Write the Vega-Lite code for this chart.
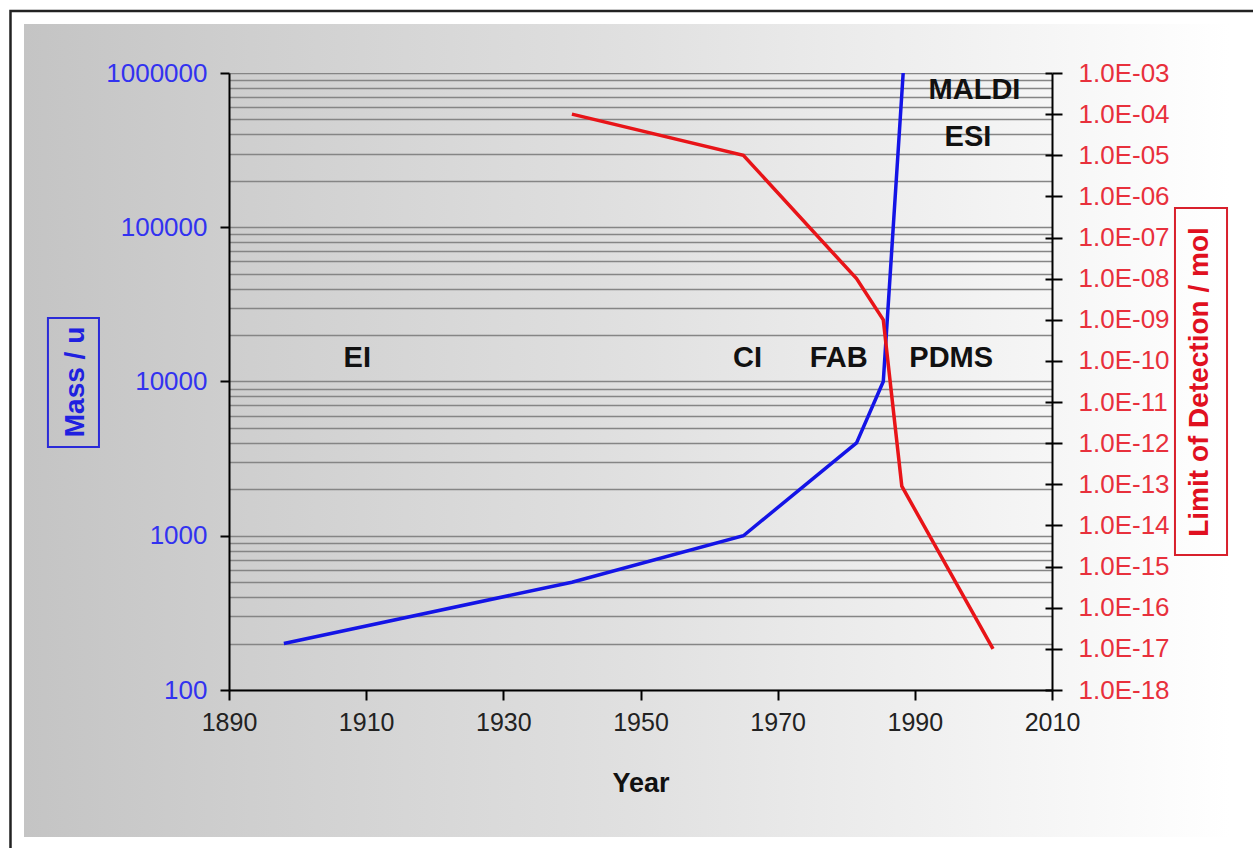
{
  "$schema": "https://vega.github.io/schema/vega-lite/v6.json",
  "width": 823,
  "height": 617,
  "autosize": {"type": "none"},
  "padding": {"left": 229, "top": 73, "right": 201, "bottom": 158},
  "background": "white",
  "config": {
    "view": {"stroke": null, "fill": {"gradient": "linear", "x1": 0, "x2": 1, "y1": 0, "y2": 0, "stops": [{"offset": 0, "color": "#cecece"}, {"offset": 0.4836, "color": "#e0e0e0"}, {"offset": 1, "color": "#f6f6f6"}]}},
    "font": "Liberation Sans",
    "axis": {"labelFont": "Liberation Sans", "titleFont": "Liberation Sans", "domainColor": "#000000", "domainWidth": 2, "tickColor": "#000000", "tickWidth": 2, "labelOverlap": false, "labelFlush": false}
  },
  "datasets": {
    "mass": [
      {"year": 1898, "mass": 200},
      {"year": 1940, "mass": 500},
      {"year": 1965, "mass": 1000},
      {"year": 1981.5, "mass": 4000},
      {"year": 1985.4, "mass": 10000},
      {"year": 1988.3, "mass": 1000000}
    ],
    "lod": [
      {"year": 1940, "lod": 1e-4},
      {"year": 1965, "lod": 1e-5},
      {"year": 1981.5, "lod": 1e-8},
      {"year": 1985.4, "lod": 1e-9},
      {"year": 1988.1, "lod": 9e-14},
      {"year": 2001.4, "lod": 1e-17}
    ],
    "labels": [
      {"label": "EI", "year": 1908.7, "mass": 14100},
      {"label": "CI", "year": 1965.6, "mass": 14100},
      {"label": "FAB", "year": 1978.9, "mass": 14100},
      {"label": "PDMS", "year": 1995.3, "mass": 14100},
      {"label": "MALDI", "year": 1998.7, "mass": 776000},
      {"label": "ESI", "year": 1997.75, "mass": 387000}
    ],
    "area": [{"region": "chart area"}]
  },
  "layer": [
    {
      "layer": [
        {
          "data": {"name": "area"},
          "mark": {"type": "rect", "clip": false, "fill": {"gradient": "linear", "x1": 0, "x2": 1, "y1": 0, "y2": 0, "stops": [{"offset": 0, "color": "#c4c4c4"}, {"offset": 1, "color": "#cecece"}]}},
          "encoding": {
            "x": {"datum": 1860.11, "type": "quantitative", "scale": {"domain": [1890, 2010], "nice": false, "zero": false},
              "axis": {"orient": "bottom", "zindex": 1, "values": [1890, 1910, 1930, 1950, 1970, 1990, 2010], "format": "d", "grid": false, "tickSize": 10, "labelPadding": 10, "labelFontSize": 25, "labelColor": "#222222", "title": "Year", "titleFontSize": 27, "titleFontWeight": "bold", "titleColor": "#111111", "titleX": 411.5, "titleY": 93, "titleBaseline": "middle", "titleAlign": "center"}},
            "x2": {"datum": 1890},
            "y": {"datum": 2079000, "type": "quantitative", "scale": {"type": "log", "domain": [100, 1000000], "nice": false},
              "axis": {"orient": "left", "zindex": 1, "grid": false,
                "values": [100, 1000, 10000, 100000, 1000000],
                "format": "d",
                "tickSize": 9, "labelPadding": 13, "labelFontSize": 26, "labelColor": "#3232f0",
                "title": "Mass / u", "titleColor": "#2020e0", "titleFontSize": 28, "titleFontWeight": "bold", "titleAngle": -90, "titleX": -154, "titleY": 308.5, "titleBaseline": "middle", "titleAlign": "center"}},
            "y2": {"datum": 11.15}
          }
        },
        {
          "data": {"name": "area"},
          "mark": {"type": "rect", "clip": false, "fill": {"gradient": "linear", "x1": 0, "x2": 1, "y1": 0, "y2": 0, "stops": [{"offset": 0, "color": "#f6f6f6"}, {"offset": 1, "color": "#ffffff"}]}},
          "encoding": {
            "x": {"datum": 2010, "type": "quantitative", "scale": {"domain": [1890, 2010], "nice": false, "zero": false}},
            "x2": {"datum": 2035.95},
            "y": {"datum": 2079000, "type": "quantitative", "scale": {"type": "log", "domain": [100, 1000000], "nice": false}},
            "y2": {"datum": 11.15}
          }
        },
        {
          "data": {"name": "area"},
          "mark": {"type": "rect", "clip": false, "fill": {"gradient": "linear", "x1": 0, "x2": 1, "y1": 0, "y2": 0, "stops": [{"offset": 0, "color": "#cecece"}, {"offset": 0.4836, "color": "#e0e0e0"}, {"offset": 1, "color": "#f6f6f6"}]}},
          "encoding": {
            "x": {"datum": 1890, "type": "quantitative", "scale": {"domain": [1890, 2010], "nice": false, "zero": false}},
            "x2": {"datum": 2010},
            "y": {"datum": 2079000, "type": "quantitative", "scale": {"type": "log", "domain": [100, 1000000], "nice": false}},
            "y2": {"datum": 1000000}
          }
        },
        {
          "data": {"name": "area"},
          "mark": {"type": "rect", "clip": false, "fill": {"gradient": "linear", "x1": 0, "x2": 1, "y1": 0, "y2": 0, "stops": [{"offset": 0, "color": "#cecece"}, {"offset": 0.4836, "color": "#e0e0e0"}, {"offset": 1, "color": "#f6f6f6"}]}},
          "encoding": {
            "x": {"datum": 1890, "type": "quantitative", "scale": {"domain": [1890, 2010], "nice": false, "zero": false}},
            "x2": {"datum": 2010},
            "y": {"datum": 100, "type": "quantitative", "scale": {"type": "log", "domain": [100, 1000000], "nice": false}},
            "y2": {"datum": 11.15}
          }
        },
        {
          "data": {"name": "area"},
          "mark": {"type": "rect", "clip": false, "filled": false, "stroke": "#222222", "strokeWidth": 2.5},
          "encoding": {
            "x": {"datum": 1858.14, "type": "quantitative", "scale": {"domain": [1890, 2010], "nice": false, "zero": false}},
            "x2": {"datum": 2040.3},
            "y": {"datum": 2520000, "type": "quantitative", "scale": {"type": "log", "domain": [100, 1000000], "nice": false}},
            "y2": {"datum": 8.51}
          }
        },
        {
          "data": {"name": "area"},
          "mark": {"type": "rect", "clip": false, "filled": false, "stroke": "#2a2ad8", "strokeWidth": 2},
          "encoding": {
            "x": {"datum": 1863.6, "type": "quantitative", "scale": {"domain": [1890, 2010], "nice": false, "zero": false}},
            "x2": {"datum": 1871.04},
            "y": {"datum": 25800, "type": "quantitative", "scale": {"type": "log", "domain": [100, 1000000], "nice": false}},
            "y2": {"datum": 3762}
          }
        },
        {
          "data": {"name": "area"},
          "mark": {"type": "rect", "clip": false, "filled": false, "stroke": "#d8202c", "strokeWidth": 2},
          "encoding": {
            "x": {"datum": 2027.93, "type": "quantitative", "scale": {"domain": [1890, 2010], "nice": false, "zero": false}},
            "x2": {"datum": 2035.52},
            "y": {"datum": 133300, "type": "quantitative", "scale": {"type": "log", "domain": [100, 1000000], "nice": false}},
            "y2": {"datum": 750.4}
          }
        },
        {
          "data": {"name": "labels"},
          "mark": {"type": "text", "fontSize": 29, "fontWeight": "bold", "color": "#111111", "align": "center", "baseline": "middle", "clip": false},
          "encoding": {
            "x": {"field": "year", "type": "quantitative", "scale": {"domain": [1890, 2010], "nice": false, "zero": false}},
            "y": {"field": "mass", "type": "quantitative", "scale": {"type": "log", "domain": [100, 1000000], "nice": false}},
            "text": {"field": "label"}
          }
        }
      ]
    },
    {
      "data": {"name": "mass"},
      "mark": {"type": "line", "color": "#1414e6", "strokeWidth": 3.5, "clip": false},
      "encoding": {
        "x": {"field": "year", "type": "quantitative", "scale": {"domain": [1890, 2010], "nice": false, "zero": false}},
        "y": {"field": "mass", "type": "quantitative", "scale": {"type": "log", "domain": [100, 1000000], "nice": false},
          "axis": {"orient": "left", "zindex": 0, "grid": true, "gridColor": "#858585", "gridWidth": 1.6,
            "values": [100, 200, 300, 400, 500, 600, 700, 800, 900, 1000, 2000, 3000, 4000, 5000, 6000, 7000, 8000, 9000, 10000, 20000, 30000, 40000, 50000, 60000, 70000, 80000, 90000, 100000, 200000, 300000, 400000, 500000, 600000, 700000, 800000, 900000, 1000000],
            "labels": false, "ticks": false, "domain": false, "title": null}}
      }
    },
    {
      "data": {"name": "lod"},
      "mark": {"type": "line", "color": "#e81418", "strokeWidth": 3.5, "strokeOpacity": 0, "clip": false},
      "encoding": {
        "x": {"field": "year", "type": "quantitative", "scale": {"domain": [1890, 2010], "nice": false, "zero": false}},
        "y": {"field": "lod", "type": "quantitative", "scale": {"type": "log", "domain": [1e-18, 1e-3], "nice": false},
          "axis": {"orient": "right", "zindex": 1, "offset": -7, "tickSize": 7, "grid": false, "labels": false, "domain": false, "title": null,
            "values": [1e-18, 1e-17, 1e-16, 1e-15, 1e-14, 1e-13, 1e-12, 1e-11, 1e-10, 1e-9, 1e-8, 1e-7, 1e-6, 1e-5, 1e-4, 1e-3]}}
      }
    },
    {
      "data": {"name": "lod"},
      "mark": {"type": "line", "color": "#e81418", "strokeWidth": 3.5, "clip": false},
      "encoding": {
        "x": {"field": "year", "type": "quantitative", "scale": {"domain": [1890, 2010], "nice": false, "zero": false}},
        "y": {"field": "lod", "type": "quantitative", "scale": {"type": "log", "domain": [1e-18, 1e-3], "nice": false},
          "axis": {"orient": "right", "zindex": 1,
            "values": [1e-18, 1e-17, 1e-16, 1e-15, 1e-14, 1e-13, 1e-12, 1e-11, 1e-10, 1e-9, 1e-8, 1e-7, 1e-6, 1e-5, 1e-4, 1e-3],
            "labelExpr": "'1.0E-' + (round(-log(datum.value)/LN10) < 10 ? '0' : '') + round(-log(datum.value)/LN10)",
            "grid": false, "tickSize": 10, "labelPadding": 16, "labelFontSize": 26, "labelColor": "#e8303c",
            "title": "Limit of Detection / mol", "titleColor": "#e01020", "titleFontSize": 28, "titleFontWeight": "bold", "titleAngle": 270, "titleX": 147, "titleY": 308.5, "titleBaseline": "middle", "titleAlign": "center"}}
      }
    }
  ],
  "resolve": {"scale": {"y": "independent"}}
}
